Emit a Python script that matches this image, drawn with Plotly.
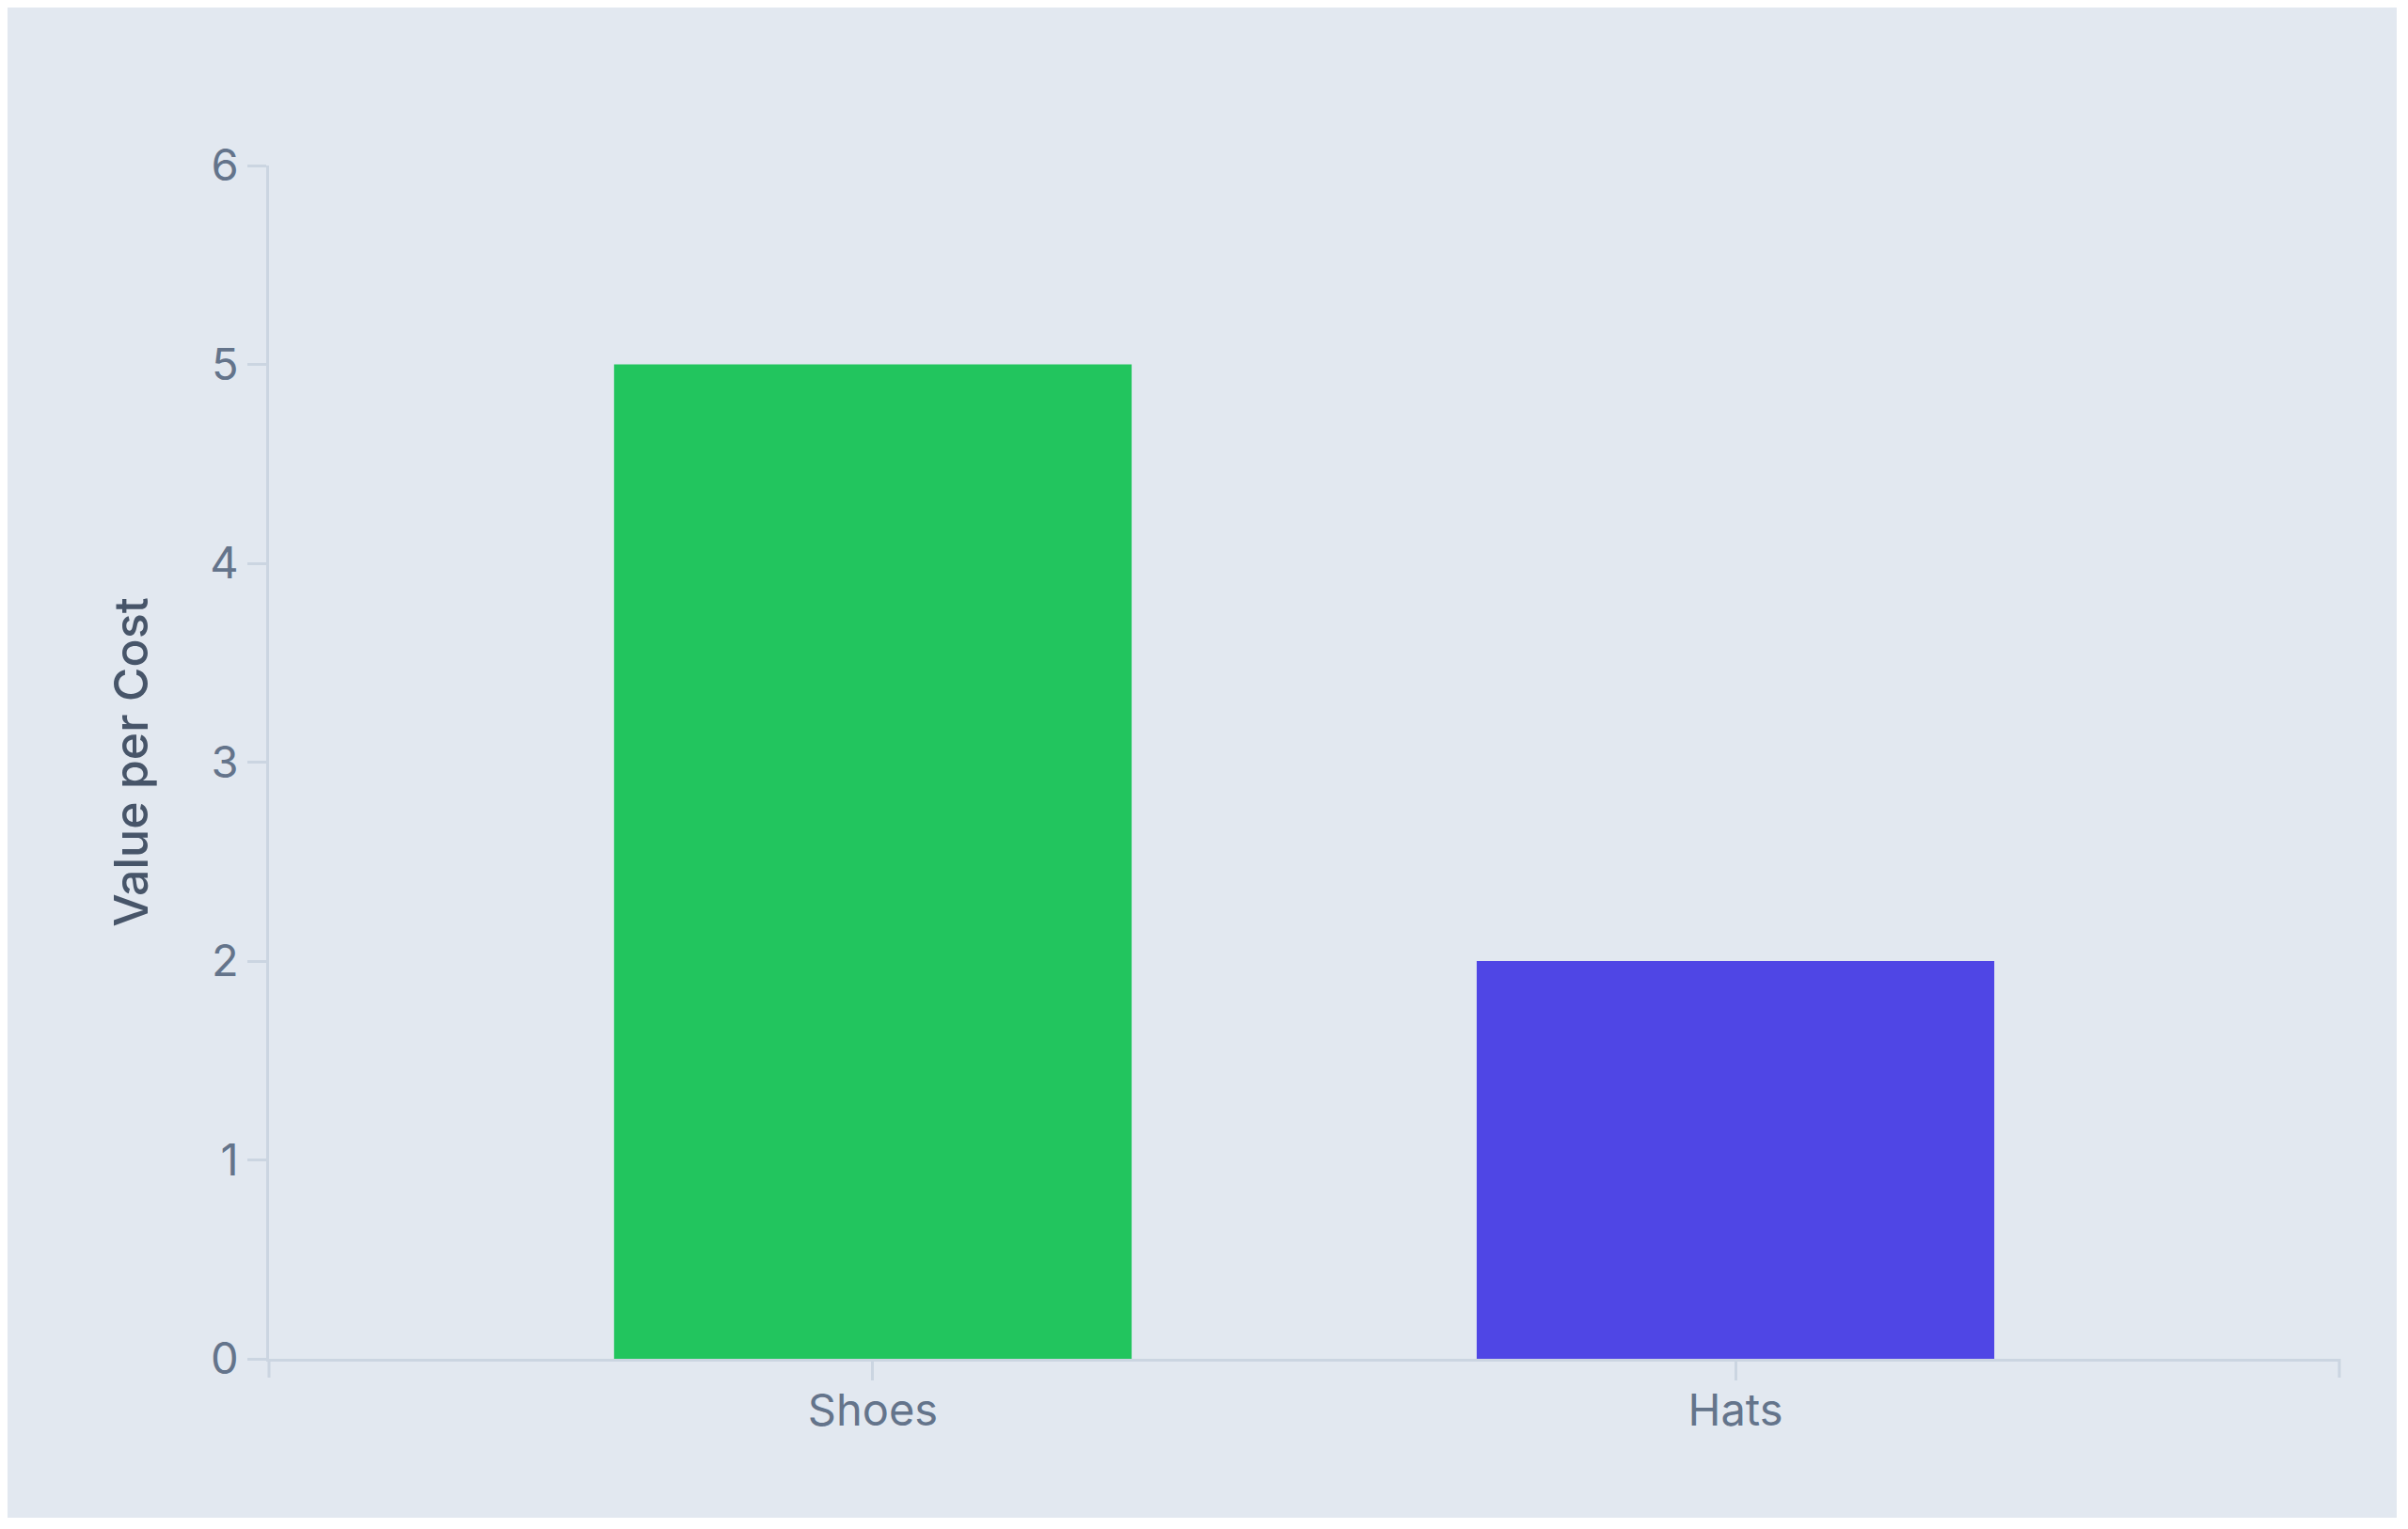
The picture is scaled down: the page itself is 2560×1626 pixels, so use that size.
import plotly.graph_objects as go

categories = ["Shoes", "Hats"]
values = [5, 2]
bar_colors = ["#22C55E", "#4F46E5"]
y_ticks = [0, 1, 2, 3, 4, 5, 6]

BG = "#E2E8F0"
AXIS = "#CBD5E1"
TICK_TEXT = "#64748B"
TITLE_TEXT = "#475569"
FONT = "Inter, 'Liberation Sans', sans-serif"

fig = go.Figure(
    go.Bar(x=categories, y=values, marker_color=bar_colors, marker_line_width=0,
           width=0.6, showlegend=False)
)

fig.update_layout(
    width=2540, height=1606,
    paper_bgcolor=BG, plot_bgcolor=BG,
    margin=dict(l=278, r=61, t=168, b=169),
    font=dict(family=FONT, size=47, color=TICK_TEXT),
)
fig.update_xaxes(
    range=[-0.7, 1.7], showgrid=False, zeroline=False,
    showline=True, linecolor=AXIS, linewidth=3,
    ticks="outside", ticklen=20, tickwidth=3, tickcolor=AXIS,
    tickfont=dict(size=47, color=TICK_TEXT), ticklabelstandoff=-8,
    automargin=False,
)
fig.update_yaxes(
    range=[0, 6], tickvals=y_ticks, showgrid=False, zeroline=False,
    showline=True, linecolor=AXIS, linewidth=3,
    ticks="outside", ticklen=20, tickwidth=3, tickcolor=AXIS,
    tickfont=dict(size=47, color=TICK_TEXT), ticklabelstandoff=0,
    title=dict(text="Value per Cost", standoff=50,
               font=dict(size=50, color=TITLE_TEXT, weight=550)),
    automargin=False,
)

# end ticks on the category axis, as in the original chart
for xe in (0, 1):
    fig.add_shape(type="line", xref="paper", yref="paper", x0=xe, x1=xe,
                  y0=0, y1=-20 / (1606 - 168 - 169),
                  line=dict(color=AXIS, width=3))

fig.write_html("out.html")
